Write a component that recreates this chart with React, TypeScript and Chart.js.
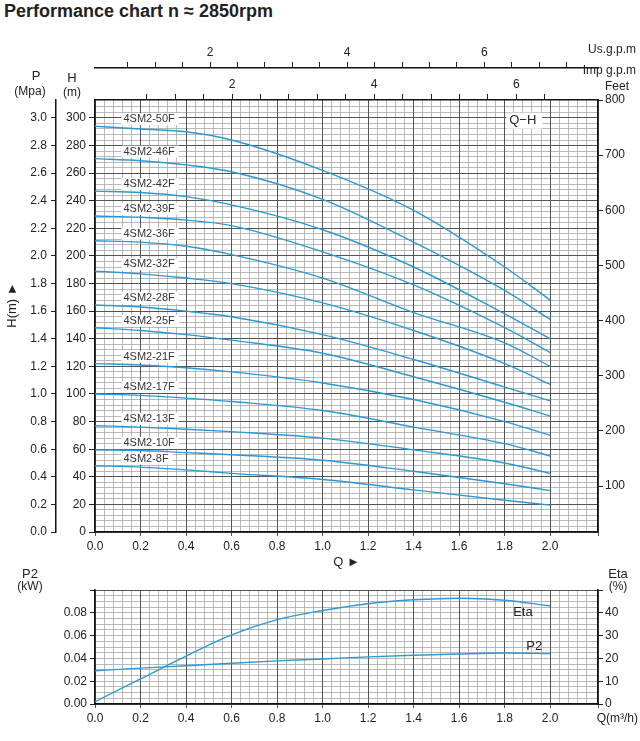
import React, { useEffect, useRef } from "react";
import { Chart, registerables } from "chart.js";
Chart.register(...registerables);

const qH = [0, 0.2, 0.4, 0.6, 1.0, 1.4, 1.8, 2.0];
const models = ["4SM2-50F","4SM2-46F","4SM2-42F","4SM2-39F","4SM2-36F","4SM2-32F","4SM2-28F","4SM2-25F","4SM2-21F","4SM2-17F","4SM2-13F","4SM2-10F","4SM2-8F"];
const h50 = [294, 292, 290, 284, 262, 233, 192, 168];
const h46 = [270.5, 269, 266, 261, 241, 210, 175, 154];
const h42 = [247, 246, 243, 237, 219, 192, 158, 140];
const h39 = [229, 228, 226, 222, 203, 179, 148, 130];
const h36 = [211, 210, 207, 201, 184, 159, 137, 120];
const h32 = [189, 187, 184, 180, 166, 146, 122, 107];
const h28 = [164.5, 163, 160, 156, 143, 125, 105, 95];
const h25 = [148, 146, 143, 139, 129.5, 112.5, 94, 84];
const h21 = [122, 121, 119, 116, 108, 96, 80, 70];
const h17 = [100, 99, 97, 94.5, 88, 76, 64, 55];
const h13 = [77, 76, 74.5, 72.7, 68, 59.5, 50, 42.5];
const h10 = [59.5, 59, 57.5, 56, 52, 44, 35, 30];
const h8 = [48, 47, 45, 42.5, 38, 30.5, 23, 19.5];
const heads = [h50, h46, h42, h39, h36, h32, h28, h25, h21, h17, h13, h10, h8];

const qP = [0, 0.2, 0.4, 0.6, 0.8, 1.0, 1.2, 1.4, 1.6, 1.8, 2.0];
const p2 = [0.0291, 0.0315, 0.0335, 0.0358, 0.0378, 0.0395, 0.0413, 0.0427, 0.0439, 0.0447, 0.0442];
const eta = [1, 11, 21, 30.3, 37, 41, 44, 45.7, 46.4, 45.5, 43];

const BLUE = "#2a9ad6";
const FONT = "'Liberation Sans', Arial, sans-serif";
const Q_MAX = 2.21;
const MAJOR = "#555";
const MINOR = "#a8a8a8";

const near = (v: number, s: number) => Math.abs(v / s - Math.round(v / s)) < 1e-6;
const fixW = (w: number) => (s: any) => { s.width = w; };
const fixH = (h: number) => (s: any) => { s.height = h; };
const onlyMult = (s: number) => (sc: any) => { sc.ticks = sc.ticks.filter((t: any) => near(t.value, s)); };

function minorAxis(axis: "x" | "y", step: number, min: number, max: number, pos: string) {
  return {
    type: "linear", axis, position: pos, min, max, z: -2, weight: -1,
    ticks: { display: false, stepSize: step },
    grid: { color: MINOR, lineWidth: 0.8, drawTicks: false },
    border: { display: false },
    afterBuildTicks: onlyMult(step),
    afterFit: axis === "x" ? fixH(0) : fixW(0),
  };
}

function txt(ctx: any, s: string, x: number, y: number, size = 12, align = "center", color = "#222") {
  ctx.save();
  ctx.font = `${size}px ${FONT}`;
  ctx.fillStyle = color;
  ctx.textAlign = align;
  ctx.textBaseline = "middle";
  ctx.fillText(s, x, y);
  ctx.restore();
}

export default function App() {
  const topRef = useRef<HTMLCanvasElement>(null);
  const botRef = useRef<HTMLCanvasElement>(null);

  useEffect(() => {
    Chart.defaults.font.family = FONT;
    Chart.defaults.color = "#222";
    const tickFont = { size: 12 };

    const topLabels = {
      id: "topLabels",
      afterDatasetsDraw(chart: any) {
        const { ctx, scales } = chart;
        const x = scales.x, y = scales.y;
        ctx.save();
        ctx.font = `11px ${FONT}`;
        heads.forEach((arr, i) => {
          const px = x.getPixelForValue(0.125);
          const py = y.getPixelForValue(arr[0]) - 7;
          const w = ctx.measureText(models[i]).width;
          ctx.fillStyle = "#fff";
          ctx.fillRect(px - 2, py - 6, w + 6, 12);
          txt(ctx, models[i], px, py, 11, "left", "#333");
        });
        const qx = x.getPixelForValue(1.82), qy = y.getPixelForValue(298);
        ctx.fillStyle = "#fff";
        ctx.fillRect(qx - 3, qy - 8, 36, 16);
        txt(ctx, "Q−H", qx, qy, 13, "left", "#222");
        ctx.restore();
      },
      afterDraw(chart: any) {
        const { ctx } = chart;
        txt(ctx, "P", 36, 36, 13);
        txt(ctx, "(Mpa)", 30, 52, 12);
        txt(ctx, "H", 72, 38, 13);
        txt(ctx, "(m)", 72, 53, 12);
        txt(ctx, "Feet", 617, 47, 12);
        txt(ctx, "Us.g.p.m", 636, 10, 12, "right");
        txt(ctx, "Imp g.p.m", 636, 31, 12, "right");
        ctx.save();
        ctx.translate(12, 265);
        ctx.rotate(-Math.PI / 2);
        txt(ctx, "H(m) ►", 0, 0, 13);
        ctx.restore();
      },
    };

    const top = new Chart(topRef.current!, {
      type: "line",
      data: {
        datasets: heads.map((arr, i) => ({
          label: models[i],
          data: qH.map((q, j) => ({ x: q, y: arr[j] })),
          borderColor: BLUE, borderWidth: 1.4, pointRadius: 0, fill: false,
          cubicInterpolationMode: "monotone",
          xAxisID: "x", yAxisID: "y",
        })),
      },
      options: {
        animation: false, responsive: false, maintainAspectRatio: false,
        layout: { padding: 0 },
        plugins: { legend: { display: false }, tooltip: { enabled: false } },
        scales: {
          xm: minorAxis("x", 0.04, 0, Q_MAX, "bottom"),
          ym: minorAxis("y", 4, 0, 313, "left"),
          x: {
            type: "linear", position: "bottom", min: 0, max: Q_MAX, z: -1, weight: 0,
            ticks: { stepSize: 0.2, font: tickFont, callback: (v: any) => (near(v, 0.2) ? Number(v).toFixed(1) : "") },
            grid: { color: MAJOR, lineWidth: 1, tickLength: 4 },
            border: { color: "#111", width: 1.5 },
            title: { display: true, text: "Q ►", font: { size: 13 }, padding: 0 },
            afterFit: fixH(38),
          },
          y: {
            type: "linear", position: "left", min: 0, max: 313, z: -1, weight: 0,
            ticks: { stepSize: 10, font: tickFont, padding: 3, callback: (v: any) => (near(v, 20) ? String(v) : "") },
            grid: { color: (c: any) => (c.tick && near(c.tick.value, 20) ? MAJOR : "rgba(0,0,0,0)"), lineWidth: 1, tickLength: 6, tickColor: "#222" },
            border: { color: "#111", width: 1.5 },
            afterFit: fixW(39),
          },
          p: {
            type: "linear", position: "left", min: 0, max: 3.13, weight: 1,
            ticks: { stepSize: 0.1, font: tickFont, padding: 4, callback: (v: any) => (near(v, 0.2) ? Number(v).toFixed(1) : "") },
            grid: { drawOnChartArea: false, tickLength: 5, color: "#222" },
            border: { color: "#111", width: 1.5 },
            afterBuildTicks: onlyMult(0.1),
            afterFit: fixW(56),
          },
          feet: {
            type: "linear", position: "right", min: 16.6, max: 800, weight: 0,
            ticks: { stepSize: 100, font: tickFont, padding: 2 },
            grid: { drawOnChartArea: false, tickLength: 5, color: "#222" },
            border: { color: "#111", width: 1.5 },
            afterBuildTicks: onlyMult(100),
            afterFit: fixW(42),
          },
          imp: {
            type: "linear", position: "top", min: 0.07, max: 7.15, weight: 0,
            ticks: { stepSize: 0.4, font: tickFont, padding: 2, callback: (v: any) => (near(v, 2) ? String(Math.round(v)) : "") },
            grid: { drawOnChartArea: false, tickLength: 6, color: "#222" },
            border: { color: "#111", width: 1.5 },
            afterBuildTicks: onlyMult(0.4),
            afterFit: fixH(32),
          },
          us: {
            type: "linear", position: "top", min: 0.32, max: 7.66, weight: 1,
            ticks: { stepSize: 0.4, font: tickFont, padding: 2, callback: (v: any) => (near(v, 2) ? String(Math.round(v)) : "") },
            grid: { drawOnChartArea: false, tickLength: 6, color: "#222" },
            border: { color: "#111", width: 1.5 },
            afterBuildTicks: onlyMult(0.4),
            afterFit: fixH(28),
          },
        },
      } as any,
      plugins: [topLabels],
    });

    const botLabels = {
      id: "botLabels",
      afterDatasetsDraw(chart: any) {
        const { ctx, scales } = chart;
        txt(ctx, "Eta", scales.x.getPixelForValue(1.88), scales.e.getPixelForValue(40), 13);
        txt(ctx, "P2", scales.x.getPixelForValue(1.93), scales.y.getPixelForValue(0.0505), 13);
      },
      afterDraw(chart: any) {
        const { ctx } = chart;
        txt(ctx, "P2", 30, 14, 13);
        txt(ctx, "(kW)", 30, 27, 12);
        txt(ctx, "Eta", 618, 14, 13);
        txt(ctx, "(%)", 618, 27, 12);
        txt(ctx, "Q(m³/h)", 638, 159, 12, "right");
      },
    };

    const bot = new Chart(botRef.current!, {
      type: "line",
      data: {
        datasets: [
          { label: "P2", data: qP.map((q, i) => ({ x: q, y: p2[i] })), borderColor: BLUE, borderWidth: 1.4, pointRadius: 0, cubicInterpolationMode: "monotone", yAxisID: "y", xAxisID: "x" },
          { label: "Eta", data: qP.map((q, i) => ({ x: q, y: eta[i] })), borderColor: BLUE, borderWidth: 1.4, pointRadius: 0, cubicInterpolationMode: "monotone", yAxisID: "e", xAxisID: "x" },
        ],
      },
      options: {
        animation: false, responsive: false, maintainAspectRatio: false,
        layout: { padding: { top: 30, left: 0, right: 0, bottom: 0 } },
        plugins: { legend: { display: false }, tooltip: { enabled: false } },
        scales: {
          xm: minorAxis("x", 0.04, 0, Q_MAX, "bottom"),
          ym: minorAxis("y", 0.005, 0, 0.1, "left"),
          x: {
            type: "linear", position: "bottom", min: 0, max: Q_MAX, z: -1, weight: 0,
            ticks: { stepSize: 0.2, font: tickFont, callback: (v: any) => (near(v, 0.2) ? Number(v).toFixed(1) : "") },
            grid: { color: MAJOR, lineWidth: 1, tickLength: 4 },
            border: { color: "#111", width: 1.5 },
            afterFit: fixH(37),
          },
          y: {
            type: "linear", position: "left", min: 0, max: 0.1, z: -1, weight: 0,
            ticks: { stepSize: 0.01, font: tickFont, padding: 3, callback: (v: any) => (near(v, 0.02) && v < 0.095 ? Number(v).toFixed(2) : "") },
            grid: { color: (c: any) => (c.tick && near(c.tick.value, 0.05) ? MAJOR : "rgba(0,0,0,0)"), lineWidth: 1, tickLength: 5, tickColor: "#222" },
            border: { color: "#111", width: 1.5 },
            afterBuildTicks: onlyMult(0.01),
            afterFit: fixW(95),
          },
          e: {
            type: "linear", position: "right", min: 0, max: 50, weight: 0,
            ticks: { stepSize: 5, font: tickFont, padding: 2, callback: (v: any) => (near(v, 10) && v < 45 ? String(v) : "") },
            grid: { drawOnChartArea: false, tickLength: 5, color: "#222" },
            border: { color: "#111", width: 1.5 },
            afterFit: fixW(42),
          },
        },
      } as any,
      plugins: [botLabels],
    });

    return () => { top.destroy(); bot.destroy(); };
  }, []);

  return (
    <div style={{ position: "absolute", left: 0, top: 0, width: 640, height: 741, background: "#fff", fontFamily: FONT }}>
      <div style={{ position: "absolute", left: 4, top: 1, fontSize: 18, fontWeight: "bold", color: "#222", whiteSpace: "nowrap" }}>
        Performance chart n ≈ 2850rpm
      </div>
      <canvas ref={topRef} width={640} height={530} style={{ position: "absolute", left: 0, top: 40, width: 640, height: 530 }} />
      <canvas ref={botRef} width={640} height={181} style={{ position: "absolute", left: 0, top: 560, width: 640, height: 181 }} />
    </div>
  );
}
